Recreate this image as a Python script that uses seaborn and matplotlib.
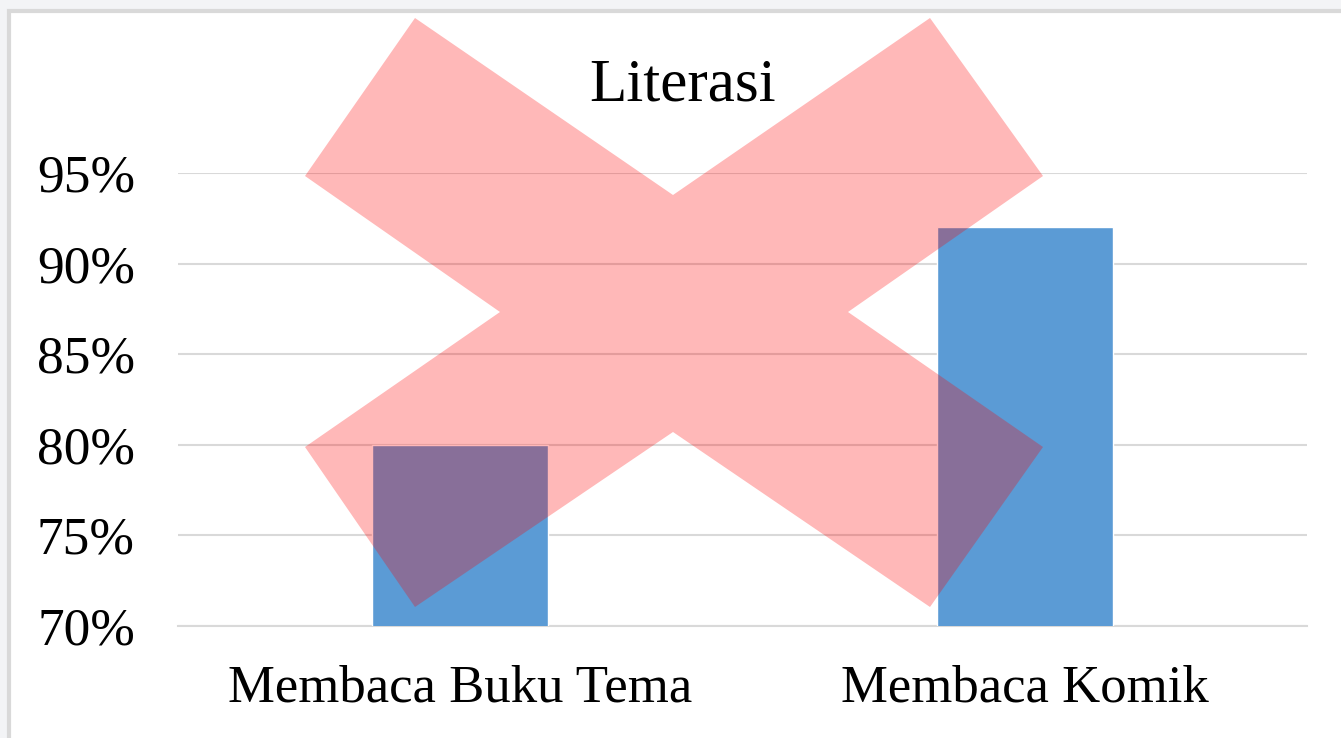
import matplotlib
matplotlib.use("Agg")
import matplotlib.pyplot as plt
from matplotlib.patches import Polygon, Rectangle
from matplotlib.ticker import PercentFormatter
import seaborn as sns
import pandas as pd

# data
categories = ["Membaca Buku Tema", "Membaca Komik"]
values = [80, 92]
y_ticks = [70, 75, 80, 85, 90, 95]

sns.set_style("white")
plt.rcParams["font.family"] = ["Liberation Serif", "DejaVu Serif"]

W, H = 1341, 738
fig = plt.figure(figsize=(W / 100, H / 100), dpi=100, facecolor="#f3f4f6")

# white chart frame, kept behind the axes
fig.patches.append(Rectangle((9 / W, -0.1), 1.2, 1 - 11 / H + 0.1, transform=fig.transFigure,
                             facecolor="white", edgecolor="#d9d9d9", linewidth=3, zorder=-10))

ax = fig.add_axes([178 / W, 1 - 626 / H, (1307 - 178) / W, (626 - 173) / H])
ax.set_facecolor("none")

df = pd.DataFrame({"cat": categories, "val": values})
sns.barplot(data=df, x="cat", y="val", color="#5b9bd5", saturation=1, width=0.312, ax=ax, zorder=3)

ax.set_ylim(70, 95)
ax.set_yticks(y_ticks)
ax.yaxis.set_major_formatter(PercentFormatter(decimals=0))
ax.grid(axis="y", color="#d9d9d9", linewidth=1.5, zorder=0)
ax.set_axisbelow(True)
for s in ["top", "right", "left"]:
    ax.spines[s].set_visible(False)
ax.spines["bottom"].set_color("#d9d9d9")
ax.spines["bottom"].set_linewidth(1.5)
ax.tick_params(axis="both", length=0, colors="black")
ax.tick_params(axis="y", labelsize=38.5, pad=31)
ax.tick_params(axis="x", labelsize=38, pad=28)
ax.set_xlabel("")
ax.set_ylabel("")
fig.text(683 / W, 1 - 86 / H, "Literasi", fontsize=44, color="black", ha="center", va="center")

# red cross overlay (pixel outline of the mark in the reference)
cross_px = [(415, 18), (673, 195), (930, 18), (1043, 176), (848, 312), (1043, 447),
            (930, 607), (673, 432), (415, 607), (305, 447), (500, 312), (305, 176)]
cross = [(x / W, 1 - y / H) for x, y in cross_px]
fig.patches.append(Polygon(cross, closed=True, transform=fig.transFigure,
                           facecolor="red", alpha=0.28, edgecolor="none", zorder=10))

fig.savefig("out.png", dpi=100, facecolor=fig.get_facecolor())
